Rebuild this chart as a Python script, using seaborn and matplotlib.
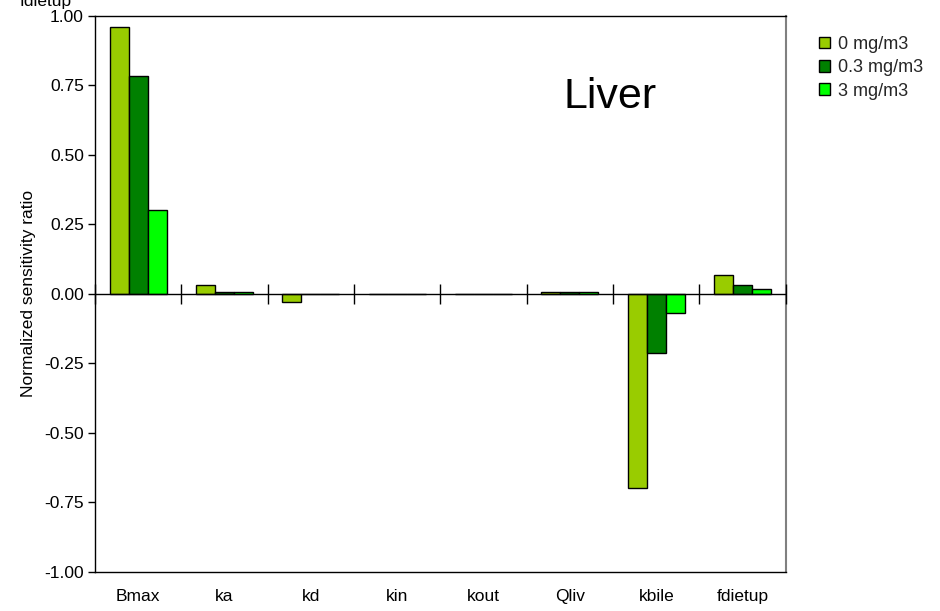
import matplotlib
matplotlib.use('Agg')
import matplotlib.pyplot as plt
import seaborn as sns
import pandas as pd
import numpy as np

params = ['Bmax', 'ka', 'kd', 'kin', 'kout', 'Qliv', 'kbile', 'fdietup']
doses = ['0 mg/m3', '0.3 mg/m3', '3 mg/m3']
ratio_0 = [0.96, 0.032, -0.029, 0.0, 0.0, 0.006, -0.70, 0.068]
ratio_03 = [0.785, 0.006, 0.0, 0.0, 0.0, 0.006, -0.213, 0.032]
ratio_3 = [0.30, 0.006, 0.0, 0.0, 0.0, 0.006, -0.068, 0.016]
colors = ['#99CC00', '#008000', '#00FF00']

df = pd.DataFrame({
    'param': params * 3,
    'dose': [d for d in doses for _ in params],
    'ratio': ratio_0 + ratio_03 + ratio_3,
})

sns.set_theme(style='white')
plt.rcParams['font.family'] = ['Liberation Sans', 'DejaVu Sans']

fig = plt.figure(figsize=(9.4, 6.11), dpi=100)
ax = fig.add_axes([0.101, 0.064, 0.735, 0.910])

sns.barplot(data=df, x='param', y='ratio', hue='dose', order=params, hue_order=doses,
            palette=colors, width=0.66, edgecolor='black', linewidth=1,
            saturation=1, ax=ax, legend=True)

ax.set_xlim(-0.5, len(params) - 0.5)
ax.set_ylim(-1, 1)
yt = np.arange(-1, 1.01, 0.25)
ax.set_yticks(yt)
ax.set_yticklabels([f'{v:.2f}' for v in yt], fontsize=12.5)
ax.tick_params(axis='y', direction='out', length=5, width=1, color='black', left=True, pad=3)
ax.tick_params(axis='x', length=0, pad=12, labelsize=12.5)
for lab in ax.get_xticklabels() + ax.get_yticklabels():
    lab.set_color('black')

# zero line with category separator ticks
ax.axhline(0, color='black', linewidth=1, zorder=3)
bounds = np.arange(len(params) + 1) - 0.5
ax.plot(bounds, np.zeros_like(bounds), linestyle='none', marker='|',
        markersize=14, markeredgewidth=1, color='black', zorder=3, clip_on=False)

for side in ['left', 'top', 'bottom']:
    ax.spines[side].set_color('black')
    ax.spines[side].set_linewidth(1)
ax.spines['right'].set_color('#808080')
ax.spines['right'].set_linewidth(1.5)

ax.set_xlabel('')
ax.set_ylabel('Normalized sensitivity ratio', fontsize=12.5, color='black', labelpad=6)

ax.text(5.47, 0.71, 'Liver', fontsize=31, color='black', ha='center', va='center')
fig.text(0.021, 0.997, 'fdietup', fontsize=12.5, color='black', ha='left', va='center')

handles, labels = ax.get_legend_handles_labels()
ax.legend(handles, labels, loc='upper left', bbox_to_anchor=(1.038, 0.977), frameon=False,
          fontsize=13, handlelength=0.6, handleheight=0.6, handletextpad=0.45,
          labelspacing=0.35, borderaxespad=0)

fig.savefig('out.png', dpi=100)
